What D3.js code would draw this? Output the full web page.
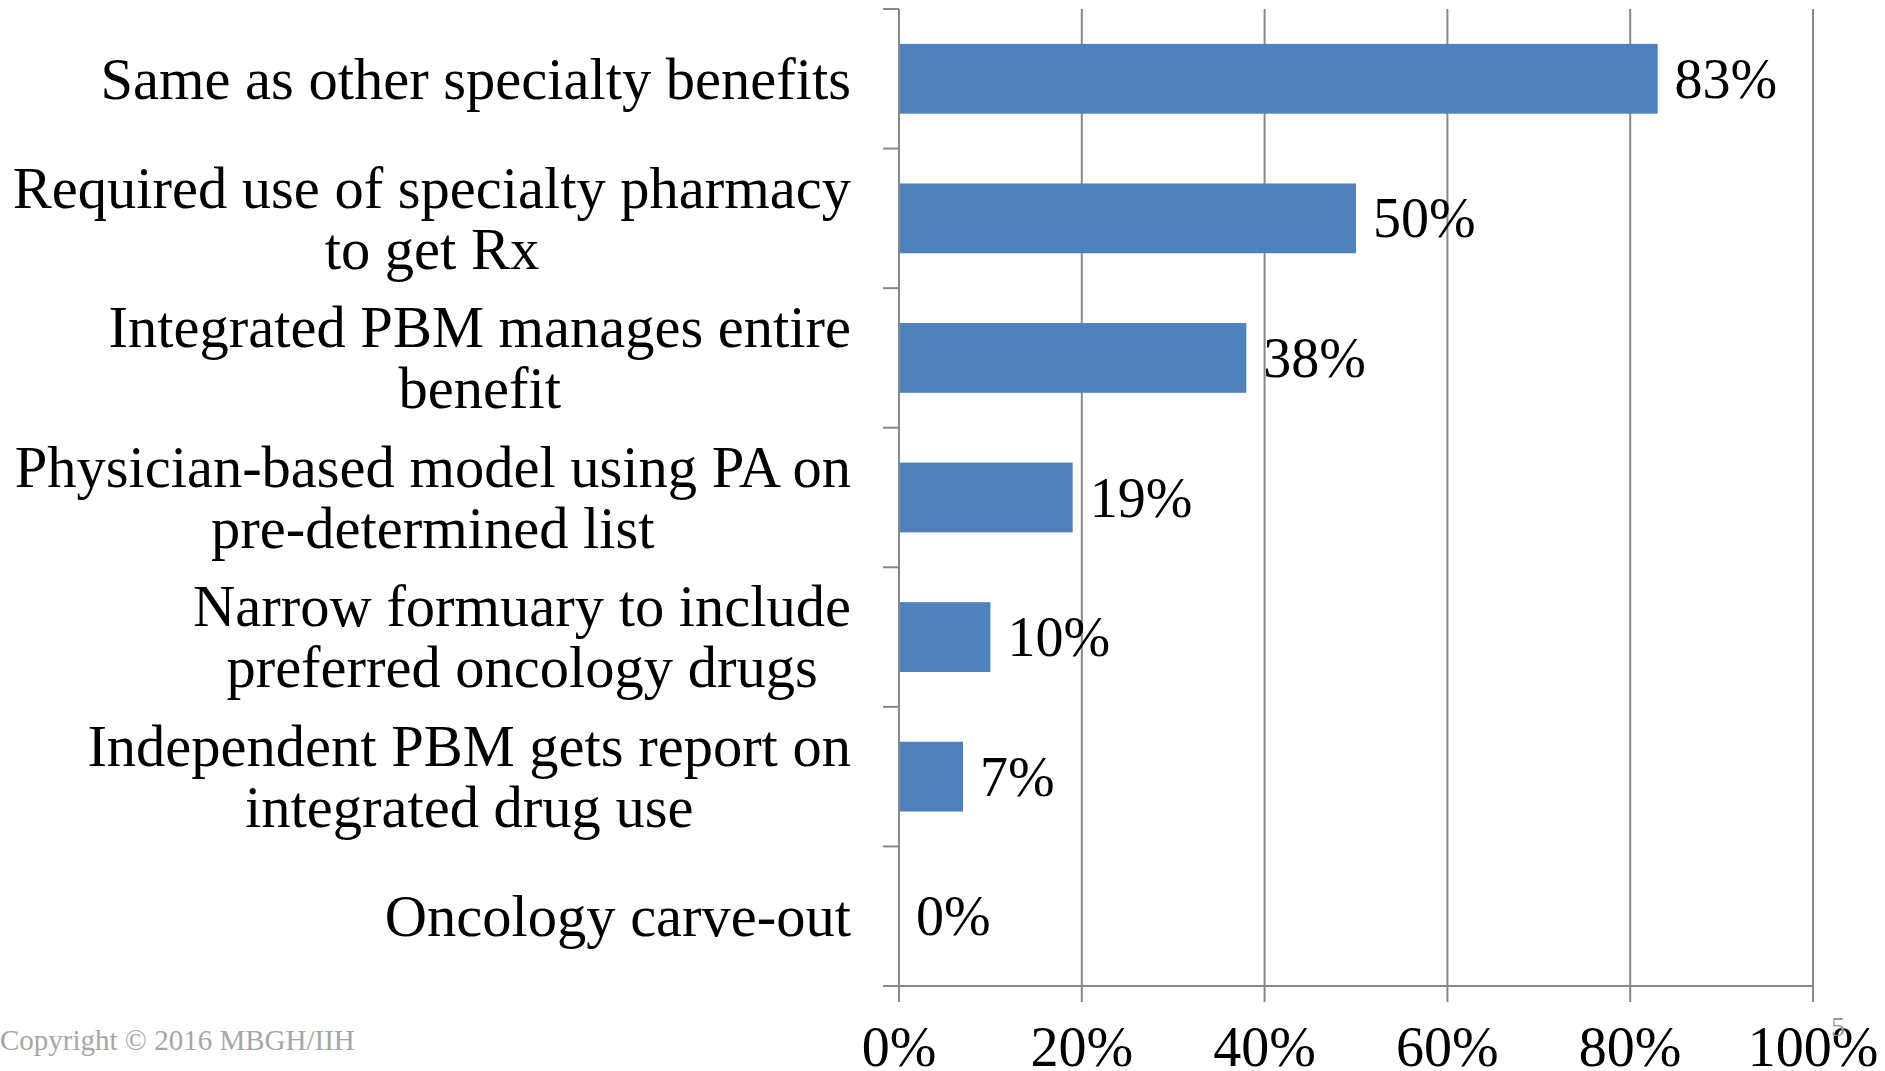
<!DOCTYPE html>
<html>
<head>
<meta charset="utf-8">
<script src="https://cdn.jsdelivr.net/npm/d3@7"></script>
<style>
  body { margin: 0; background: #fff; }
  text { font-family: "Liberation Serif", serif; }
</style>
</head>
<body>
<div id="chart"></div>
<script>
var categories = [
    "Same as other specialty benefits",
    "Required use of specialty pharmacy\nto get Rx",
    "Integrated PBM manages entire\nbenefit",
    "Physician-based model using PA on\npre-determined list",
    "Narrow formuary to include\npreferred oncology drugs",
    "Independent PBM gets report on\nintegrated drug use",
    "Oncology carve-out"
];
var values = [83, 50, 38, 19, 10, 7, 0];
var xTicks = [0, 20, 40, 60, 80, 100];

var svgWidth = 1885;
var svgHeight = 1071;

var margin = { top: 9, left: 899, right: 72, bottom: 85 };
var width = svgWidth - margin.left - margin.right;
var height = svgHeight - margin.top - margin.bottom;

var svg = d3.select("#chart")
    .append("svg")
    .attr("width", svgWidth)
    .attr("height", svgHeight);

var chartGroup = svg.append("g")
    .attr("transform", `translate(${margin.left}, ${margin.top})`);

var xScale = d3.scaleLinear()
    .domain([0, 100])
    .range([0, width]);

var yScale = d3.scaleBand()
    .domain(categories)
    .range([0, height])
    .paddingInner(0.5)
    .paddingOuter(0.25);

var axisColor = "#888888";
var tickLen = 16;

// vertical gridlines (extend below the axis as ticks)
chartGroup.selectAll(".grid")
    .data(xTicks.slice(1))
    .enter()
    .append("line")
    .attr("x1", d => xScale(d))
    .attr("x2", d => xScale(d))
    .attr("y1", 0)
    .attr("y2", height + tickLen)
    .attr("stroke", axisColor)
    .attr("stroke-width", 2);

// bars
chartGroup.selectAll("rect")
    .data(values)
    .enter()
    .append("rect")
    .attr("x", 0)
    .attr("y", (d, i) => yScale(categories[i]))
    .attr("width", d => xScale(d))
    .attr("height", yScale.bandwidth())
    .attr("fill", "#4F81BD");

// y axis line + ticks at band boundaries
var step = yScale.step();
var boundaries = categories.map(c => yScale(c) - step * 0.25);
boundaries.push(height);

chartGroup.append("line")
    .attr("x1", 0).attr("x2", 0)
    .attr("y1", 0).attr("y2", height + tickLen)
    .attr("stroke", axisColor)
    .attr("stroke-width", 2);

chartGroup.selectAll(".ytick")
    .data(boundaries)
    .enter()
    .append("line")
    .attr("x1", -tickLen).attr("x2", 0)
    .attr("y1", d => d).attr("y2", d => d)
    .attr("stroke", axisColor)
    .attr("stroke-width", 2);

// x axis line
chartGroup.append("line")
    .attr("x1", -tickLen).attr("x2", width)
    .attr("y1", height).attr("y2", height)
    .attr("stroke", axisColor)
    .attr("stroke-width", 2);

// x tick labels
chartGroup.selectAll(".xlabel")
    .data(xTicks)
    .enter()
    .append("text")
    .attr("x", d => xScale(d))
    .attr("y", height + 80)
    .attr("text-anchor", "middle")
    .attr("font-size", 56)
    .attr("fill", "#000")
    .text(d => d + "%");

// value labels
chartGroup.selectAll(".vlabel")
    .data(values)
    .enter()
    .append("text")
    .attr("x", d => xScale(d) + 17)
    .attr("y", (d, i) => yScale(categories[i]) + yScale.bandwidth() / 2)
    .attr("dy", "0.34em")
    .attr("font-size", 56)
    .attr("fill", "#000")
    .text(d => d + "%");

// category labels: block right-aligned, lines centered inside the block
var labelRight = -48;
var lineHeight = 61;
categories.forEach(function(cat, i) {
    var lines = cat.split("\n");
    var g = chartGroup.append("g");
    var yc = yScale(cat) + yScale.bandwidth() / 2;
    var texts = lines.map(function(line, j) {
        return g.append("text")
            .attr("y", yc + (j - (lines.length - 1) / 2) * lineHeight)
            .attr("dy", "0.34em")
            .attr("text-anchor", "middle")
            .attr("font-size", 58.5)
            .attr("fill", "#000")
            .text(line);
    });
    var maxW = d3.max(texts, t => t.node().getComputedTextLength());
    texts.forEach(t => t.attr("x", labelRight - maxW / 2));
});

// footer
svg.append("text")
    .attr("x", 0)
    .attr("y", 1050)
    .attr("font-size", 29)
    .attr("fill", "#a6a6a6")
    .text("Copyright © 2016 MBGH/IIH");

svg.append("text")
    .attr("x", 1831)
    .attr("y", 1036)
    .attr("font-family", "Open Sans, sans-serif")
    .attr("font-size", 28)
    .attr("fill", "#999999")
    .text("5");
</script>
</body>
</html>
